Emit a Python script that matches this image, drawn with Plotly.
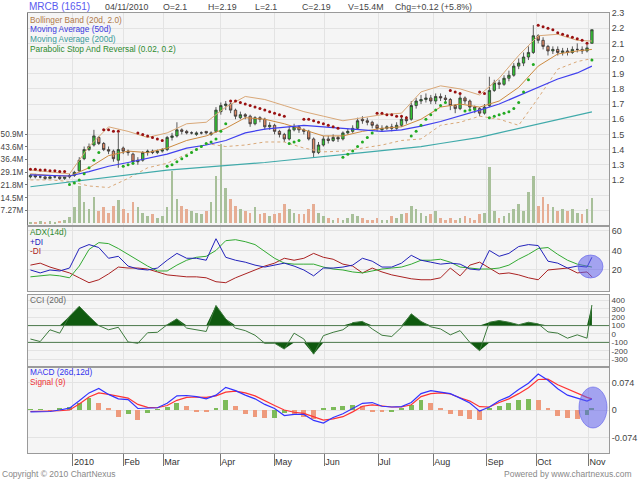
import plotly.graph_objects as go
from plotly.subplots import make_subplots

# MRCB (1651) daily chart, one bar here = two trading days (Dec 2009 .. 04 Nov 2010)
opens = [1.22, 1.23, 1.22, 1.22, 1.21, 1.22, 1.22, 1.21, 1.22,
         1.23, 1.26, 1.34, 1.40, 1.43, 1.48, 1.44, 1.40, 1.39, 1.33, 1.41,
         1.39, 1.37, 1.32, 1.33, 1.38, 1.39, 1.38, 1.39, 1.40, 1.48,
         1.49, 1.53, 1.52, 1.51, 1.50, 1.51, 1.52, 1.50, 1.52, 1.65,
         1.69, 1.70, 1.66, 1.61, 1.63, 1.62, 1.57, 1.61, 1.60, 1.55,
         1.56, 1.52, 1.50, 1.47, 1.53, 1.55, 1.53, 1.52, 1.47, 1.38,
         1.43, 1.47, 1.46, 1.48, 1.47, 1.51, 1.52, 1.54, 1.60, 1.59,
         1.58, 1.56, 1.53, 1.54, 1.55, 1.54, 1.56, 1.60, 1.60, 1.69,
         1.72, 1.73, 1.74, 1.72, 1.75, 1.74, 1.73, 1.69, 1.67, 1.74,
         1.72, 1.68, 1.67, 1.64, 1.69, 1.79, 1.84, 1.83, 1.87, 1.89,
         1.95, 1.97, 2.01, 2.04, 2.15, 2.12, 2.08, 2.05, 2.06, 2.04,
         2.05, 2.04, 2.06, 2.06, 2.05, 2.10]
highs = [1.24, 1.24, 1.23, 1.23, 1.23, 1.23, 1.23, 1.22, 1.24,
         1.26, 1.35, 1.42, 1.44, 1.53, 1.49, 1.45, 1.42, 1.40, 1.51, 1.42,
         1.40, 1.38, 1.35, 1.39, 1.40, 1.40, 1.40, 1.41, 1.49, 1.51,
         1.58, 1.54, 1.53, 1.52, 1.52, 1.52, 1.52, 1.52, 1.68, 1.71,
         1.72, 1.71, 1.67, 1.65, 1.64, 1.63, 1.62, 1.62, 1.61, 1.58,
         1.57, 1.53, 1.51, 1.55, 1.57, 1.56, 1.54, 1.53, 1.48, 1.45,
         1.49, 1.49, 1.50, 1.49, 1.52, 1.54, 1.56, 1.61, 1.62, 1.61,
         1.59, 1.57, 1.56, 1.56, 1.57, 1.58, 1.62, 1.62, 1.72, 1.74,
         1.76, 1.77, 1.76, 1.77, 1.77, 1.76, 1.74, 1.70, 1.76, 1.75,
         1.73, 1.69, 1.68, 1.70, 1.88, 1.86, 1.86, 1.89, 1.92, 1.97,
         2.00, 2.04, 2.08, 2.22, 2.16, 2.14, 2.09, 2.08, 2.08, 2.07,
         2.07, 2.08, 2.10, 2.08, 2.09, 2.19]
lows = [1.21, 1.21, 1.21, 1.20, 1.21, 1.21, 1.20, 1.20, 1.21,
        1.22, 1.25, 1.33, 1.39, 1.42, 1.43, 1.39, 1.37, 1.32, 1.28, 1.37,
        1.36, 1.30, 1.30, 1.32, 1.36, 1.37, 1.37, 1.38, 1.39, 1.46,
        1.48, 1.50, 1.50, 1.50, 1.49, 1.50, 1.50, 1.49, 1.51, 1.63,
        1.66, 1.64, 1.60, 1.60, 1.60, 1.55, 1.56, 1.58, 1.53, 1.53,
        1.50, 1.48, 1.45, 1.46, 1.52, 1.51, 1.50, 1.46, 1.35, 1.37,
        1.42, 1.44, 1.45, 1.45, 1.46, 1.50, 1.51, 1.53, 1.57, 1.56,
        1.54, 1.52, 1.52, 1.53, 1.52, 1.53, 1.55, 1.57, 1.59, 1.67,
        1.70, 1.71, 1.70, 1.70, 1.72, 1.71, 1.66, 1.64, 1.66, 1.70,
        1.66, 1.64, 1.62, 1.63, 1.68, 1.78, 1.80, 1.82, 1.85, 1.88,
        1.93, 1.95, 1.99, 2.03, 2.10, 2.06, 2.02, 2.03, 2.02, 2.02,
        2.02, 2.03, 2.04, 2.03, 2.04, 2.10]
closes = [1.23, 1.22, 1.22, 1.21, 1.22, 1.22, 1.21, 1.22, 1.23,
          1.25, 1.33, 1.40, 1.42, 1.49, 1.44, 1.40, 1.39, 1.34, 1.40, 1.39,
          1.38, 1.32, 1.33, 1.38, 1.39, 1.38, 1.39, 1.40, 1.48, 1.49,
          1.53, 1.52, 1.51, 1.51, 1.51, 1.51, 1.51, 1.51, 1.66, 1.69,
          1.70, 1.66, 1.62, 1.63, 1.62, 1.57, 1.61, 1.60, 1.55, 1.56,
          1.52, 1.50, 1.47, 1.53, 1.55, 1.53, 1.52, 1.47, 1.38, 1.43,
          1.47, 1.46, 1.48, 1.47, 1.51, 1.52, 1.54, 1.59, 1.59, 1.58,
          1.56, 1.54, 1.54, 1.55, 1.54, 1.56, 1.60, 1.59, 1.69, 1.72,
          1.73, 1.74, 1.72, 1.75, 1.74, 1.73, 1.69, 1.67, 1.74, 1.72,
          1.68, 1.67, 1.64, 1.68, 1.79, 1.84, 1.83, 1.87, 1.89, 1.95,
          1.97, 2.01, 2.04, 2.15, 2.12, 2.08, 2.05, 2.06, 2.04, 2.05,
          2.04, 2.06, 2.06, 2.05, 2.07, 2.19]
volume_m = [0.8, 0.6, 1.0, 0.7, 0.9, 0.6, 1.2, 1.5, 3.5,
            9, 21, 12, 8, 15, 7, 9, 6, 10, 13, 8,
            6, 12, 9, 6, 4, 5, 3, 4, 9, 30,
            14, 10, 8, 7, 6, 5, 7, 12, 27, 45,
            20, 14, 10, 8, 7, 6, 9, 5, 6, 4,
            5, 6, 11, 8, 6, 5, 5, 8, 11, 6,
            4, 3, 2, 3, 2, 3, 5, 4, 3, 2,
            2, 3, 2, 2, 4, 3, 5, 6, 10, 8,
            6, 4, 5, 7, 3, 2, 3, 2, 3, 4,
            3, 2, 5, 6, 32, 7, 3, 4, 6, 8,
            11, 7, 18, 27, 10, 15, 11, 9, 7, 8,
            7, 8, 6, 5, 8, 14.5]
sar = [1.27, 1.27, 1.265, 1.265, 1.26, 1.26, 1.255, 1.255,
       1.17, 1.18, 1.20, 1.24, 1.28, 1.33, 1.38,
       1.53, 1.53, 1.52, 1.52,
       1.29, 1.30, 1.31,
       1.51, 1.50, 1.49, 1.48, 1.47, 1.46,
       1.29, 1.30, 1.32, 1.34, 1.36, 1.38, 1.40, 1.42, 1.44, 1.45, 1.47, 1.52, 1.57,
       1.72, 1.72, 1.71, 1.70, 1.69, 1.68, 1.67, 1.66, 1.65, 1.64, 1.63, 1.62,
       1.44, 1.45, 1.46,
       1.60, 1.60, 1.59, 1.58, 1.57, 1.56, 1.55, 1.54,
       1.35, 1.37, 1.39, 1.42, 1.45, 1.48, 1.51,
       1.64, 1.64, 1.63, 1.63, 1.62, 1.62, 1.61,
       1.49, 1.52, 1.56, 1.60, 1.63, 1.66, 1.69, 1.71,
       1.79, 1.78, 1.77,
       1.655, 1.66, 1.665,
       1.78, 1.77,
       1.61, 1.62, 1.63, 1.64, 1.65, 1.67, 1.71, 1.78, 1.86, 1.96,
       2.22, 2.21, 2.20, 2.19, 2.17, 2.16, 2.15, 2.14, 2.13, 2.12, 2.10,
       1.99]

# overlays, read every 4 bars
band_idx = list(range(0, 113, 4)) + [115]
ma200 = [1.155, 1.17, 1.19, 1.205, 1.22, 1.235, 1.25, 1.265, 1.275, 1.285,
         1.293, 1.305, 1.315, 1.328, 1.34, 1.355, 1.368, 1.38, 1.393, 1.405,
         1.42, 1.44, 1.46, 1.48, 1.51, 1.54, 1.57, 1.60, 1.63, 1.648]
ma50 = [1.233, 1.23, 1.226, 1.255, 1.29, 1.315, 1.345, 1.37, 1.41, 1.43,
        1.46, 1.51, 1.535, 1.55, 1.56, 1.55, 1.54, 1.53, 1.52, 1.53,
        1.555, 1.585, 1.62, 1.66, 1.70, 1.755, 1.815, 1.865, 1.905, 1.95]
bb_upper = [1.265, 1.25, 1.24, 1.42, 1.55, 1.52, 1.48, 1.51, 1.57, 1.58,
            1.68, 1.75, 1.73, 1.69, 1.65, 1.62, 1.59, 1.61, 1.63, 1.64,
            1.78, 1.82, 1.80, 1.76, 1.87, 2.02, 2.15, 2.16, 2.12, 2.115]
bb_mid = [1.24, 1.23, 1.225, 1.28, 1.36, 1.39, 1.38, 1.41, 1.46, 1.49,
          1.54, 1.61, 1.60, 1.57, 1.53, 1.49, 1.49, 1.52, 1.54, 1.55,
          1.60, 1.68, 1.70, 1.68, 1.72, 1.81, 1.95, 2.03, 2.05, 2.06]
bb_lower = [1.20, 1.20, 1.19, 1.16, 1.15, 1.21, 1.28, 1.31, 1.37, 1.44,
            1.42, 1.43, 1.45, 1.45, 1.41, 1.385, 1.39, 1.41, 1.43, 1.46,
            1.47, 1.56, 1.58, 1.62, 1.60, 1.56, 1.74, 1.93, 1.98, 2.00]

# oscillators, read every 2 bars
osc_idx = list(range(0, 115, 2)) + [115]
plus_di = [20, 17, 20, 19, 22, 42, 46, 43, 32, 34,
           24, 21, 20, 22, 30, 37, 32, 32, 30, 52,
           33, 30, 28, 25, 23, 25, 27, 24, 20, 14,
           22, 22, 23, 25, 32, 29, 23, 23, 27, 35,
           30, 28, 26, 27, 26, 21, 20, 40, 34, 37,
           44, 46, 45, 29, 27, 22, 24, 23, 33]
minus_di = [25, 27, 23, 20, 17, 12, 7, 10, 16, 23,
            22, 22, 21, 18, 15, 14, 13, 13, 12, 8,
            7, 12, 16, 20, 24, 27, 32, 30, 32, 37,
            33, 31, 26, 24, 17, 22, 18, 15, 13, 11,
            10, 10, 12, 22, 14, 25, 28, 22, 16, 17,
            15, 12, 10, 20, 21, 22, 17, 18, 13]
adx = [13, 14, 15, 14, 12, 24, 41, 48, 47, 42,
       36, 30, 24, 19, 19, 25, 30, 33, 34, 40,
       50, 51, 49, 46, 39, 32, 27, 26, 26, 26,
       23, 21, 20, 18, 17, 19, 21, 22, 23, 26,
       30, 30, 31, 28, 23, 22, 21, 21, 22, 25,
       31, 36, 42, 43, 36, 30, 26, 24, 23]
cci = [-60, -90, 50, 10, 210, 330, 210, 100, 50, 80,
       -95, -110, 15, 20, 110, 180, 70, 50, 30, 340,
       180, 70, 40, -15, -110, -110, -180, 10, -60, -240,
       -20, 20, 50, 135, 150, 60, -15, -30, 80, 240,
       150, 85, 60, -10, 40, -100, -200, 140, 160, 140,
       110, 140, 120, 25, 10, -50, -10, -50, 345]
macd = [-0.005, -0.005, -0.004, 0.000, 0.005, 0.025, 0.046, 0.058, 0.042, 0.030,
        0.028, 0.004, 0.005, 0.006, 0.018, 0.038, 0.039, 0.036, 0.030, 0.040,
        0.061, 0.052, 0.040, 0.030, 0.015, 0.004, -0.015, -0.012, -0.012, -0.028,
        -0.035, -0.020, -0.010, 0.003, 0.018, 0.020, 0.010, 0.008, 0.009, 0.020,
        0.044, 0.052, 0.048, 0.044, 0.032, 0.019, -0.003, 0.008, 0.025, 0.036,
        0.055, 0.072, 0.097, 0.080, 0.057, 0.040, 0.032, 0.024, 0.030]
signal = [-0.004, -0.004, -0.004, -0.002, 0.000, 0.016, 0.035, 0.046, 0.042, 0.036,
          0.032, 0.015, 0.007, 0.006, 0.012, 0.026, 0.034, 0.035, 0.034, 0.038,
          0.048, 0.051, 0.046, 0.038, 0.024, 0.012, 0.000, -0.006, -0.009, -0.018,
          -0.027, -0.024, -0.018, -0.005, 0.010, 0.014, 0.010, 0.008, 0.008, 0.014,
          0.036, 0.044, 0.046, 0.043, 0.033, 0.024, 0.009, 0.008, 0.020, 0.030,
          0.044, 0.060, 0.082, 0.083, 0.068, 0.056, 0.045, 0.034, 0.030]
macd_hist = [0.001, 0.002, -0.001, 0.003, 0.008, 0.020, 0.032, 0.020, 0.006, -0.020,
             -0.012, -0.028, -0.008, 0.001, 0.008, 0.019, 0.012, -0.003, -0.006, 0.004,
             0.028, 0.012, -0.012, -0.020, -0.022, -0.021, -0.008, -0.010, -0.018, -0.024,
             0.005, 0.008, 0.011, 0.013, 0.012, -0.003, -0.006, -0.004, 0.006, 0.014,
             0.026, 0.020, 0.006, -0.012, -0.016, -0.024, -0.026, 0.004, 0.010, 0.018,
             0.026, 0.030, 0.026, 0.004, -0.015, -0.022, -0.024, -0.014, 0.003]

month_pos = [8.7, 19.0, 27.2, 38.9, 49.9, 60.2, 71.2, 82.5, 93.4, 103.6, 114.3]
month_labels = ["2010", "Feb", "Mar", "Apr", "May", "Jun", "Jul", "Aug", "Sep", "Oct", "Nov"]
price_ticks = [1.0, 1.1, 1.2, 1.3, 1.4, 1.5, 1.6, 1.7, 1.8, 1.9, 2.0, 2.1, 2.2, 2.3]
price_labels = ["", "", "1.2", "1.3", "1.4", "1.5", "1.6", "1.7", "1.8", "1.9", "2.0", "2.1", "2.2", "2.3"]
vol_ticks = [7.27, 14.5, 21.8, 29.1, 36.4, 43.6, 50.9]
vol_labels = ["7.27M", "14.5M", "21.8M", "29.1M", "36.4M", "43.6M", "50.9M"]

FONT = "Liberation Sans, Arial, sans-serif"
bars = list(range(len(closes)))

fig = make_subplots(rows=4, cols=1, shared_xaxes=True, vertical_spacing=0,
                    specs=[[{"secondary_y": True}], [{}], [{}], [{}]])

# volume
vol_colors = ["#a8c09a" if c >= o else "#e6ad94" for o, c in zip(opens, closes)]
fig.add_trace(go.Bar(x=bars, y=volume_m, marker_color=vol_colors, marker_line_width=0,
                     width=0.55), row=1, col=1, secondary_y=False)

# bollinger, moving averages
fig.add_trace(go.Scatter(x=band_idx, y=bb_upper, mode="lines", line=dict(color="#d9a878", width=1)),
              row=1, col=1, secondary_y=True)
fig.add_trace(go.Scatter(x=band_idx, y=bb_lower, mode="lines", line=dict(color="#d9a878", width=1, dash="dot")),
              row=1, col=1, secondary_y=True)
fig.add_trace(go.Scatter(x=band_idx, y=bb_mid, mode="lines", line=dict(color="#cc8a40", width=1)),
              row=1, col=1, secondary_y=True)
fig.add_trace(go.Scatter(x=band_idx, y=ma200, mode="lines", line=dict(color="#40aaaa", width=1.2)),
              row=1, col=1, secondary_y=True)
fig.add_trace(go.Scatter(x=band_idx, y=ma50, mode="lines", line=dict(color="#4040ee", width=1.2)),
              row=1, col=1, secondary_y=True)

# candles
fig.add_trace(go.Candlestick(x=bars, open=opens, high=highs, low=lows, close=closes,
                             whiskerwidth=0,
                             increasing=dict(line=dict(color="#333333", width=0.8), fillcolor="#33cc33"),
                             decreasing=dict(line=dict(color="#333333", width=0.8), fillcolor="#e08a66")),
              row=1, col=1, secondary_y=True)

# parabolic SAR
up_x = [i for i in bars if sar[i] < closes[i]]
dn_x = [i for i in bars if sar[i] >= closes[i]]
fig.add_trace(go.Scatter(x=up_x, y=[sar[i] for i in up_x], mode="markers",
                         marker=dict(color="#22aa22", size=3)), row=1, col=1, secondary_y=True)
fig.add_trace(go.Scatter(x=dn_x, y=[sar[i] for i in dn_x], mode="markers",
                         marker=dict(color="#991111", size=3)), row=1, col=1, secondary_y=True)

# ADX panel
fig.add_hline(y=20, row=2, col=1, line=dict(color="#9c9", width=1, dash="dot"))
fig.add_hline(y=40, row=2, col=1, line=dict(color="#9c9", width=1, dash="dot"))
fig.add_trace(go.Scatter(x=osc_idx, y=minus_di, mode="lines", line=dict(color="#aa2222", width=1)), row=2, col=1)
fig.add_trace(go.Scatter(x=osc_idx, y=adx, mode="lines", line=dict(color="#33aa33", width=1)), row=2, col=1)
fig.add_trace(go.Scatter(x=osc_idx, y=plus_di, mode="lines", line=dict(color="#2222bb", width=1)), row=2, col=1)

# CCI panel
fig.add_hline(y=0, row=3, col=1, line=dict(color="#6a6", width=1, dash="dot"))
fig.add_trace(go.Scatter(x=osc_idx, y=[100] * len(osc_idx), mode="lines", line=dict(width=0)), row=3, col=1)
fig.add_trace(go.Scatter(x=osc_idx, y=[max(v, 100) for v in cci], mode="lines", line=dict(width=0),
                         fill="tonexty", fillcolor="#0f5a0f"), row=3, col=1)
fig.add_trace(go.Scatter(x=osc_idx, y=[-100] * len(osc_idx), mode="lines", line=dict(width=0)), row=3, col=1)
fig.add_trace(go.Scatter(x=osc_idx, y=[min(v, -100) for v in cci], mode="lines", line=dict(width=0),
                         fill="tonexty", fillcolor="#0f5a0f"), row=3, col=1)
fig.add_hline(y=100, row=3, col=1, line=dict(color="#4d7a4d", width=1))
fig.add_hline(y=-100, row=3, col=1, line=dict(color="#4d7a4d", width=1))
fig.add_trace(go.Scatter(x=osc_idx, y=cci, mode="lines", line=dict(color="#3d7a3d", width=1)), row=3, col=1)

# MACD panel
hist_colors = ["#7dbb5a"] + ["#7dbb5a" if b >= a else "#ee9a7c" for a, b in zip(macd_hist, macd_hist[1:])]
fig.add_trace(go.Bar(x=osc_idx, y=macd_hist, marker_color=hist_colors, marker_line_width=0, width=1.0),
              row=4, col=1)
fig.add_trace(go.Scatter(x=osc_idx, y=signal, mode="lines", line=dict(color="#ff3333", width=1.2)), row=4, col=1)
fig.add_trace(go.Scatter(x=osc_idx, y=macd, mode="lines", line=dict(color="#3333ff", width=1.2)), row=4, col=1)

grid = "#e3e3e3"
border = "#9a9a9a"
tick_font = dict(family=FONT, size=9, color="#444")
x_dom = [28 / 640, 609 / 640]

fig.update_xaxes(domain=x_dom, range=[-0.5, 118.5], tickvals=month_pos, showgrid=True, gridcolor=grid,
                 showline=True, mirror=True, linecolor=border, zeroline=False, showticklabels=False,
                 rangeslider_visible=False, automargin=False)
fig.update_xaxes(row=4, col=1, showticklabels=True, ticktext=month_labels, ticklabelposition="outside right",
                 ticks="outside", ticklen=12, tickcolor="#777", tickfont=dict(family=FONT, size=9, color="#333"))

fig.update_layout(
    yaxis=dict(domain=[1 - 225 / 480, 1 - 13 / 480], range=[-1.14, 120.1], side="left",
               tickvals=vol_ticks, ticktext=vol_labels, showgrid=False, zeroline=False,
               ticks="outside", ticklen=2, tickcolor="#777",
               tickfont=dict(family=FONT, size=8.2, color="#444"),
               showline=True, linecolor="#777", automargin=False),
    yaxis2=dict(range=[0.903, 2.3], side="right", tickvals=price_ticks, ticktext=price_labels,
                showgrid=True, gridcolor=grid, zeroline=False, tickfont=tick_font,
                showline=True, linecolor=border, automargin=False),
    yaxis3=dict(domain=[1 - 291 / 480, 1 - 227 / 480], range=[-1.5, 64], side="right",
                tickvals=[20, 40, 60], showgrid=True, gridcolor=grid, zeroline=False,
                tickfont=tick_font, showline=True, mirror=True, linecolor=border, automargin=False),
    yaxis4=dict(domain=[1 - 366 / 480, 1 - 295 / 480], range=[-381, 464], side="right",
                tickvals=[-300, -200, -100, 0, 100, 200, 300, 400],
                ticktext=["-300", "-200", "-100", "0", "100", "200", "300", "400"],
                showgrid=True, gridcolor=grid, zeroline=False,
                tickfont=dict(family=FONT, size=8, color="#444"),
                showline=True, mirror=True, linecolor=border, automargin=False),
    yaxis5=dict(domain=[1 - 453 / 480, 1 - 368 / 480], range=[-0.1157, 0.113], side="right",
                tickvals=[-0.074, 0, 0.074], ticktext=["-0.074", "0", "0.074"],
                showgrid=True, gridcolor=grid, zeroline=False, tickfont=tick_font,
                showline=True, mirror=True, linecolor=border, automargin=False),
    width=640, height=480, margin=dict(l=0, r=0, t=0, b=0, autoexpand=False),
    paper_bgcolor="white", plot_bgcolor="#f5f5f5", showlegend=False,
    font=dict(family=FONT), bargap=0,
)


def note(x, y, text, color, size=8.5):
    fig.add_annotation(x=x / 640, y=1 - y / 480, xref="paper", yref="paper", text=text, showarrow=False,
                       xanchor="left", yanchor="middle", borderpad=0,
                       font=dict(family=FONT, size=size, color=color))


note(28, 7, "MRCB (1651)", "#5a5af0", 10)
for x, t in [(104, "04/11/2010"), (162, "O=2.1"), (207, "H=2.19"), (254, "L=2.1"), (301, "C=2.19"),
             (347, "V=15.4M"), (394, "Chg=+0.12 (+5.8%)")]:
    note(x, 7, t, "#444", 8.8)

note(29, 20, "Bollinger Band (20d, 2.0)", "#b07a4a", 8.3)
note(29, 29.5, "Moving Average (50d)", "#3a3ae0", 8.3)
note(29, 39, "Moving Average (200d)", "#3a9a9a", 8.3)
note(29, 48.5, "Parabolic Stop And Reversal (0.02, 0.2)", "#2e8a2e", 8.3)
note(29, 232, "ADX(14d)", "#2e8a2e", 8.3)
note(29, 241.5, "+DI", "#2222bb", 8.3)
note(29, 251, "-DI", "#aa2222", 8.3)
note(29, 300, "CCI (20d)", "#666", 8.3)
note(29, 372, "MACD (26d,12d)", "#3333ee", 8.3)
note(29, 381.5, "Signal (9)", "#ee3333", 8.3)
note(1, 474, "Copyright © 2010 ChartNexus", "#888", 8.5)
note(503, 474, "Powered by www.chartnexus.com", "#888", 8.5)

# highlight circles drawn on the chart
for x0, y0, x1, y1 in [(578, 255, 603, 278), (579, 387, 607, 428)]:
    fig.add_shape(type="circle", xref="paper", yref="paper", x0=x0 / 640, x1=x1 / 640,
                  y0=1 - y1 / 480, y1=1 - y0 / 480, fillcolor="rgba(95,95,235,0.55)",
                  line=dict(color="rgba(95,95,235,0.6)", width=1), layer="above")

# the page's default body margin would shift the 640x480 figure
fig.write_html("out.html", config={"displayModeBar": False},
               post_script="document.body.style.margin='0';")
